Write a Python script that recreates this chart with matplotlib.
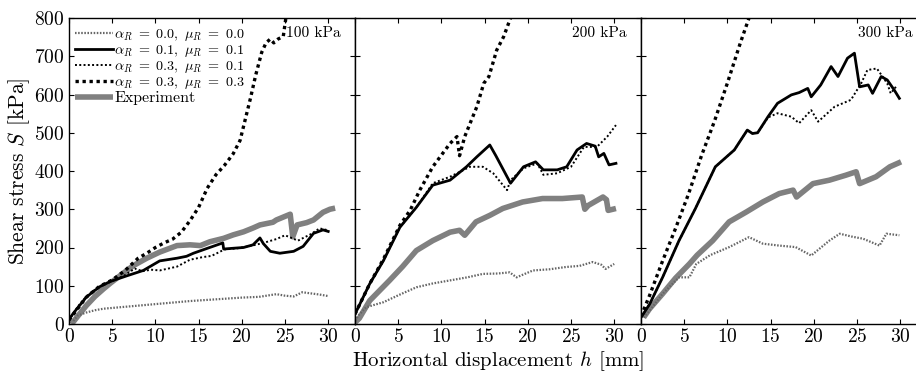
import matplotlib
matplotlib.use("Agg")
import matplotlib.pyplot as plt

# ---------------- data: shear stress S [kPa] vs displacement h [mm] ----------------
pressures = ["100 kPa", "200 kPa", "300 kPa"]
series_labels = [
    r"$\alpha_R\ =\ 0.0,\ \mu_R\ =\ 0.0$",
    r"$\alpha_R\ =\ 0.1,\ \mu_R\ =\ 0.1$",
    r"$\alpha_R\ =\ 0.3,\ \mu_R\ =\ 0.1$",
    r"$\alpha_R\ =\ 0.3,\ \mu_R\ =\ 0.3$",
    "Experiment",
]

# 100 kPa
h_a0_100 = [0.5, 1, 2, 3, 4, 6, 8, 10, 12, 14, 16, 18, 20, 22, 24, 25, 26, 27, 28, 29, 30]
s_a0_100 = [8, 22, 30, 36, 40, 44, 48, 52, 56, 60, 63, 66, 69, 71, 78, 74, 72, 83, 80, 77, 73]
h_a1_100 = [0, 0.5, 1, 2, 3, 3.6, 4.75, 6.7, 8.6, 10.5, 12.5, 13.6, 14.4, 15.9, 17.8, 17.9,
            19, 20.2, 21.3, 22.1, 22.5, 23.3, 24.4, 26, 27.1, 28.3, 29.4, 30]
s_a1_100 = [12, 28, 42, 70, 88, 98, 111, 126, 140, 165, 172, 177, 185, 197, 212, 196,
            198, 200, 207, 225, 210, 190, 185, 190, 203, 237, 246, 242]
h_a3m1_100 = [0, 1, 2, 3.5, 5, 6.5, 7.6, 8.5, 9.5, 10.5, 11.5, 12.5, 14, 15.5, 16.5, 18,
              19.5, 21, 22.5, 24, 25, 26.5, 28, 29, 30]
s_a3m1_100 = [10, 45, 72, 98, 112, 128, 145, 138, 142, 140, 145, 150, 168, 175, 178, 195,
              198, 204, 212, 222, 232, 218, 235, 250, 245]
h_a3m3_100 = [0, 1, 2, 3.5, 5, 6.5, 8, 9, 10, 11, 12, 13, 14, 15, 16, 17, 18, 19, 19.8,
              20.4, 21, 21.6, 22.3, 22.8, 23.3, 23.7, 24.2, 24.8, 25.1]
s_a3m3_100 = [10, 40, 70, 98, 115, 140, 172, 185, 200, 212, 222, 240, 270, 305, 355, 390,
              415, 445, 480, 535, 590, 650, 710, 735, 745, 735, 745, 752, 800]
h_exp_100 = [0.3, 1, 2, 3, 4, 4.8, 6, 7.4, 9, 10.5, 12.5, 14, 15.2, 16.3, 17.9, 19, 20.2,
             21.3, 22.1, 23.6, 24, 25.6, 25.9, 26.4, 27.5, 28.3, 29.4, 30.2, 30.8]
s_exp_100 = [0, 20, 48, 72, 92, 107, 128, 152, 172, 188, 205, 207, 205, 215, 224, 233, 241,
             251, 259, 266, 272, 287, 228, 259, 265, 272, 292, 300, 303]

# 200 kPa
h_a0_200 = [0, 0.5, 1.3, 3.3, 5, 7.1, 9, 11, 13, 14.8, 16.5, 17.9, 18.7, 20.6, 22.5, 24.4,
            26, 27.5, 28.5, 29, 30]
s_a0_200 = [9, 25, 44, 57, 75, 96, 106, 114, 122, 131, 132, 135, 122, 140, 143, 149,
            152, 162, 155, 144, 157]
h_a1_200 = [0, 1.7, 3.3, 5.2, 7.1, 9, 11, 12.9, 14.1, 15.6, 16.3, 18, 19.5, 20.9, 21.8,
            23.4, 24.5, 25.7, 26.8, 27.8, 28.2, 28.8, 29.4, 30.2]
s_a1_200 = [26, 105, 166, 253, 305, 363, 376, 411, 437, 468, 440, 368, 411, 424, 403,
            403, 411, 455, 472, 465, 437, 446, 416, 420]
h_a3m1_200 = [0, 1.7, 3.3, 5.2, 7.1, 9, 11, 13.3, 14.8, 16, 17.6, 18, 19.5, 21.1, 21.8,
              23.4, 25, 26.5, 28, 29.2, 30.2]
s_a3m1_200 = [26, 105, 166, 253, 305, 368, 385, 411, 411, 394, 350, 376, 407, 420, 390,
              394, 411, 463, 463, 490, 520]
h_a3m3_200 = [0, 1.7, 3.3, 5.2, 6.4, 7.5, 9, 11, 11.8, 12.1, 12.7, 14.1, 14.9, 15.5, 16.4,
              17.2, 18]
s_a3m3_200 = [26, 105, 170, 258, 298, 350, 411, 472, 490, 440, 490, 568, 629, 647, 716,
              751, 800]
h_exp_200 = [0, 0.5, 1.7, 4, 5.5, 7.1, 9, 11, 12.1, 12.7, 14, 15.6, 17.1, 19.4, 21.7, 24,
             26.3, 26.6, 27, 28.7, 29.1, 29.3, 30.2]
s_exp_200 = [4, 15, 61, 114, 150, 192, 218, 240, 245, 232, 267, 284, 302, 319, 328, 328,
             332, 300, 310, 332, 325, 297, 302]

# 300 kPa
h_a0_300 = [0.3, 1, 2.5, 4.4, 5.6, 6.4, 8, 10.2, 12.5, 14.1, 16, 17.9, 19.7, 21.8, 23,
            24.5, 25.7, 27.6, 28.4, 29.9]
s_a0_300 = [17, 35, 79, 122, 122, 157, 180, 201, 227, 210, 205, 201, 179, 218, 236,
            228, 223, 205, 236, 232]
h_a1_300 = [0, 1, 2.5, 4.4, 6.3, 8.6, 10.8, 12.3, 12.9, 13.5, 14.7, 15.8, 17.4, 18.3, 19.3,
            19.7, 20.8, 22, 22.8, 23.9, 24.7, 25.3, 26.3, 26.8, 27.8, 28.5, 29.3, 29.9]
s_a1_300 = [17, 52, 122, 218, 302, 411, 455, 507, 498, 500, 542, 577, 599, 605, 616,
            594, 625, 673, 647, 695, 708, 620, 625, 603, 647, 638, 612, 590]
h_a3m1_300 = [0, 1, 2.5, 4.4, 6.3, 8.6, 10.8, 12.3, 12.9, 13.5, 14.7, 15.8, 17.4, 18.3,
              19.7, 20.5, 22.4, 24.3, 25.5, 26.2, 27.3, 28.5, 28.9, 29.5]
s_a3m1_300 = [17, 52, 122, 218, 302, 411, 455, 507, 498, 500, 540, 551, 542, 525,
              559, 529, 568, 586, 630, 664, 668, 629, 603, 620]
h_a3m3_300 = [0, 1, 2.5, 4, 5.5, 7, 8.5, 10, 11.5, 12.5]
s_a3m3_300 = [20, 75, 165, 250, 340, 440, 530, 630, 735, 800]
h_exp_300 = [0.3, 1, 2.5, 4, 5.6, 6.5, 8.3, 10.2, 12.2, 14.1, 16, 17.6, 18, 19.9, 21.8,
             23.7, 24.9, 25.3, 27.2, 28.8, 30.1]
s_exp_300 = [17, 40, 79, 120, 157, 180, 218, 267, 293, 319, 341, 350, 332, 367, 376,
             389, 398, 367, 385, 411, 424]

x_ticks = [0, 5, 10, 15, 20, 25, 30]
y_ticks = [0, 100, 200, 300, 400, 500, 600, 700, 800]

panels = [
    [(h_a0_100, s_a0_100), (h_a1_100, s_a1_100), (h_a3m1_100, s_a3m1_100),
     (h_a3m3_100, s_a3m3_100), (h_exp_100, s_exp_100)],
    [(h_a0_200, s_a0_200), (h_a1_200, s_a1_200), (h_a3m1_200, s_a3m1_200),
     (h_a3m3_200, s_a3m3_200), (h_exp_200, s_exp_200)],
    [(h_a0_300, s_a0_300), (h_a1_300, s_a1_300), (h_a3m1_300, s_a3m1_300),
     (h_a3m3_300, s_a3m3_300), (h_exp_300, s_exp_300)],
]

# ---------------- styling ----------------
plt.rcParams.update({
    "font.family": "serif",
    "font.serif": ["cmr10"],
    "mathtext.fontset": "cm",
    "axes.formatter.use_mathtext": True,
    "axes.unicode_minus": False,
    "xtick.direction": "in",
    "ytick.direction": "in",
    "xtick.top": True,
    "ytick.right": True,
    "xtick.major.size": 3.5,
    "ytick.major.size": 3.5,
    "axes.linewidth": 1.0,
})

styles = [
    dict(color="0.4", lw=1.6, dashes=(0.7, 0.7)),
    dict(color="black", lw=2.0, linestyle="-"),
    dict(color="black", lw=1.4, dashes=(1.0, 1.2)),
    dict(color="black", lw=2.4, dashes=(1.0, 1.1)),
    dict(color="#808080", lw=4.0, linestyle="-", solid_capstyle="butt"),
]
zorders = [2, 4, 3, 3, 1]

W, H = 916, 372
fig = plt.figure(figsize=(W / 100, H / 100), dpi=100)

ax_left0 = 69 / W
ax_w = 286 / W
ax_b = 48 / H
ax_h = 306 / H

axes = []
for i in range(3):
    ax = fig.add_axes([ax_left0 + i * ax_w, ax_b, ax_w, ax_h])
    axes.append(ax)
    for (hh, ss), st, lab, zo in zip(panels[i], styles, series_labels, zorders):
        ax.plot(hh, ss, label=lab, zorder=zo, **st)
    ax.set_xlim(0, 33.1)
    ax.set_ylim(0, 800)
    ax.set_xticks(x_ticks)
    ax.set_yticks(y_ticks)
    ax.tick_params(axis="both", labelsize=14)
    ax.tick_params(axis="x", pad=3)
    ax.tick_params(axis="y", pad=3)
    if i > 0:
        ax.set_yticklabels([])
    ax.text(0.951, 0.95, pressures[i], transform=ax.transAxes, ha="right", va="center",
            fontsize=11)

axes[0].set_ylabel(r"Shear stress $S$ [kPa]", fontsize=15.5, labelpad=2)
axes[1].set_xlabel(r"Horizontal displacement $h$ [mm]", fontsize=15, labelpad=2)

leg = axes[0].legend(loc="upper left", bbox_to_anchor=(0.0, 0.99), frameon=False,
                     fontsize=10.2, handlelength=2.7, handletextpad=0.1, labelspacing=0.0,
                     borderpad=0.2, borderaxespad=0.2)
# plain-text entry set a little larger so it reads like the math entries
leg.get_texts()[-1].set_fontsize(11.5)

fig.savefig("out.png", dpi=100, facecolor="white")
